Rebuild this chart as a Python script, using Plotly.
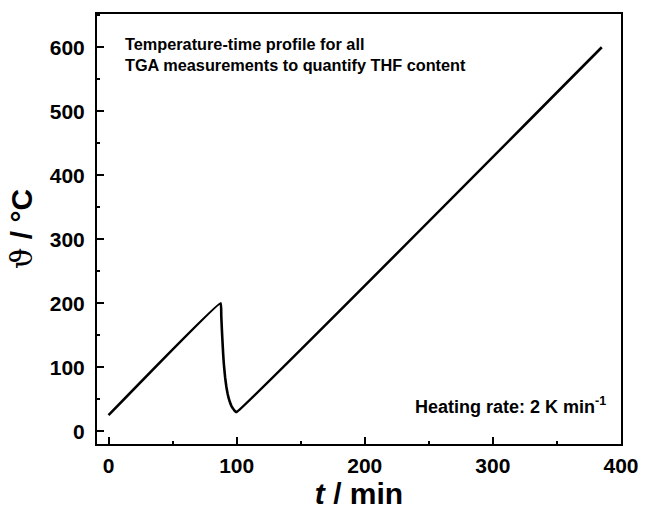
import plotly.graph_objects as go

# Temperature-time profile (min, °C)
time_min = [0, 87.5, 88, 88.5, 89, 89.5, 90, 91, 92, 93, 94, 95, 96, 97, 98, 99, 100, 385]
temp_c = [25, 200, 180, 158, 138, 120, 105, 84, 69, 58, 50, 44, 39, 36, 33, 31, 30, 600]

x_ticks = [0, 100, 200, 300, 400]
y_ticks = [0, 100, 200, 300, 400, 500, 600]

FONT = "Liberation Sans, Arial, sans-serif"

fig = go.Figure()
fig.add_trace(go.Scatter(x=time_min, y=temp_c, mode="lines",
                         line=dict(color="black", width=2.6, shape="spline", smoothing=0.3),
                         showlegend=False, hoverinfo="skip"))

axis_common = dict(
    showgrid=False, zeroline=False, showline=True, linecolor="black", linewidth=2,
    mirror=True, ticks="inside", ticklen=7, tickwidth=2, tickcolor="black",
    tickfont=dict(family=FONT, size=21, color="black", weight="bold"),
    minor=dict(ticks="inside", ticklen=3, tickwidth=2, tickcolor="black", showgrid=False),
    ticklabeloverflow="allow",
)

fig.update_xaxes(range=[-9, 400], tickvals=x_ticks, **axis_common, ticklabelstandoff=2,
                 title=dict(text="<b><i>t</i> / min</b>", font=dict(family=FONT, size=30, color="black"),
                            standoff=0))
fig.update_xaxes(minor_dtick=50)
fig.update_yaxes(range=[-20, 652], tickvals=y_ticks, **axis_common, ticklabelstandoff=6,
                 title=dict(text="<span style=\"font-family:'DejaVu Serif';font-weight:normal\">ϑ</span><b> / °C</b>",
                            font=dict(family=FONT, size=30, color="black"),
                            standoff=8))
fig.update_yaxes(minor_dtick=50)

fig.add_annotation(x=0.05, y=0.955, xref="paper", yref="paper", xanchor="left", yanchor="top",
                   align="left", showarrow=False,
                   text="<b>Temperature-time profile for all<br>TGA measurements to quantify THF content</b>",
                   font=dict(family=FONT, size=16.3, color="black"))
fig.add_annotation(x=0.975, y=0.09, xref="paper", yref="paper", xanchor="right", yanchor="middle",
                   showarrow=False, text="<b>Heating rate: 2 K min<sup>-1</sup></b>",
                   font=dict(family=FONT, size=18, color="black"))

fig.update_layout(width=651, height=510, plot_bgcolor="white", paper_bgcolor="white",
                  margin=dict(l=97, r=17, t=14, b=63))
fig.write_html("out.html")
